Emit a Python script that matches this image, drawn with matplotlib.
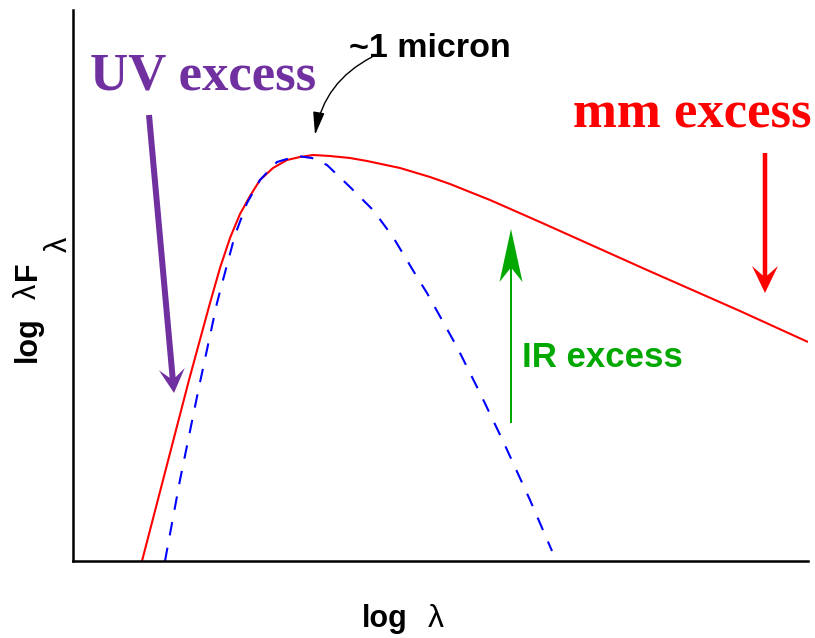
import matplotlib
matplotlib.use('Agg')
import matplotlib.pyplot as plt
from matplotlib.patches import FancyArrow

# Schematic SED, arbitrary units (log lambda, log lambda F_lambda)
red_x = [69, 116, 137, 147, 157, 167, 177, 187, 200, 214, 227, 240, 257, 277, 294, 327, 357, 377, 417, 467, 574, 667, 735]
red_y = [0, 181, 258, 293, 323, 347, 365, 381, 393, 401, 404, 406, 405, 403, 400, 393, 384, 377, 361, 339, 291, 250, 219]

blue_x = [92, 107, 126, 144, 150, 162, 174, 187, 204, 224, 239, 254, 277, 300, 320, 344, 354, 384, 407, 430, 457, 479]
blue_y = [0, 81, 174, 258, 281, 326, 358, 381, 399, 405, 403, 396, 374, 351, 324, 284, 268, 214, 168, 120, 61, 10]

W, H = 815, 638


def fx(px):
    return px / W


def fy(py):
    return 1 - py / H


fig = plt.figure(figsize=(W / 100, H / 100), dpi=100)
ax = fig.add_axes([73 / W, (H - 561) / H, 735 / W, 551 / H])
ax.set_xlim(0, 735)
ax.set_ylim(0, 551)
for s in ['top', 'right']:
    ax.spines[s].set_visible(False)
for s in ['left', 'bottom']:
    ax.spines[s].set_linewidth(1.8)
ax.set_xticks([])
ax.set_yticks([])

ax.plot(red_x, red_y, color='#ff0000', lw=1.5, solid_capstyle='butt')
ax.plot(blue_x, blue_y, color='#0000ff', lw=1.5, dashes=(6.5, 6))

# excess arrows
purple = '#7030a0'
green = '#00a800'
ax.add_patch(FancyArrow(76, 446, 25, -278, width=6, head_width=26, head_length=24,
                        overhang=0.35, length_includes_head=True, color=purple, lw=0))
ax.add_patch(FancyArrow(692, 408, 0, -140, width=4.5, head_width=26, head_length=27,
                        overhang=0.35, length_includes_head=True, color='#ff0000', lw=0))
ax.add_patch(FancyArrow(438, 138, 0, 194, width=2, head_width=23, head_length=53,
                        overhang=0.25, length_includes_head=True, color=green, lw=0))
ax.annotate('', xy=(242, 426), xytext=(299, 504),
            arrowprops=dict(arrowstyle='-|>,head_length=1.4,head_width=0.35',
                            connectionstyle='arc3,rad=0.25', lw=1, color='black',
                            shrinkA=0, shrinkB=0, mutation_scale=10))

serif = 'Liberation Serif'
sans = 'Liberation Sans'
fig.text(fx(90), fy(90), 'UV excess', family=serif, weight='bold', size=38,
         color=purple, ha='left', va='baseline')
fig.text(fx(573), fy(127), 'mm excess', family=serif, weight='bold', size=38,
         color='#ff0000', ha='left', va='baseline')
fig.text(fx(522), fy(367), 'IR excess', family=sans, weight='bold', size=25,
         color=green, ha='left', va='baseline')
fig.text(fx(349), fy(57), '~1 micron', family=sans, weight='bold', size=24.5,
         color='black', ha='left', va='baseline')

# axis labels
fig.text(fx(362), fy(627), 'log', family=sans, weight='bold', size=22, ha='left', va='baseline')
fig.text(fx(428), fy(627), 'λ', family=sans, size=23, ha='left', va='baseline')
rot = dict(rotation=90, rotation_mode='anchor', ha='left', va='baseline', family=sans)
fig.text(fx(36), fy(362), 'log', weight='bold', size=22, **rot)
fig.text(fx(36), fy(299), 'λ', size=22, **rot)
fig.text(fx(36), fy(280), 'F', weight='bold', size=22, **rot)
fig.text(fx(67), fy(252), 'λ', size=22, **rot)

fig.savefig('out.png', dpi=100)
